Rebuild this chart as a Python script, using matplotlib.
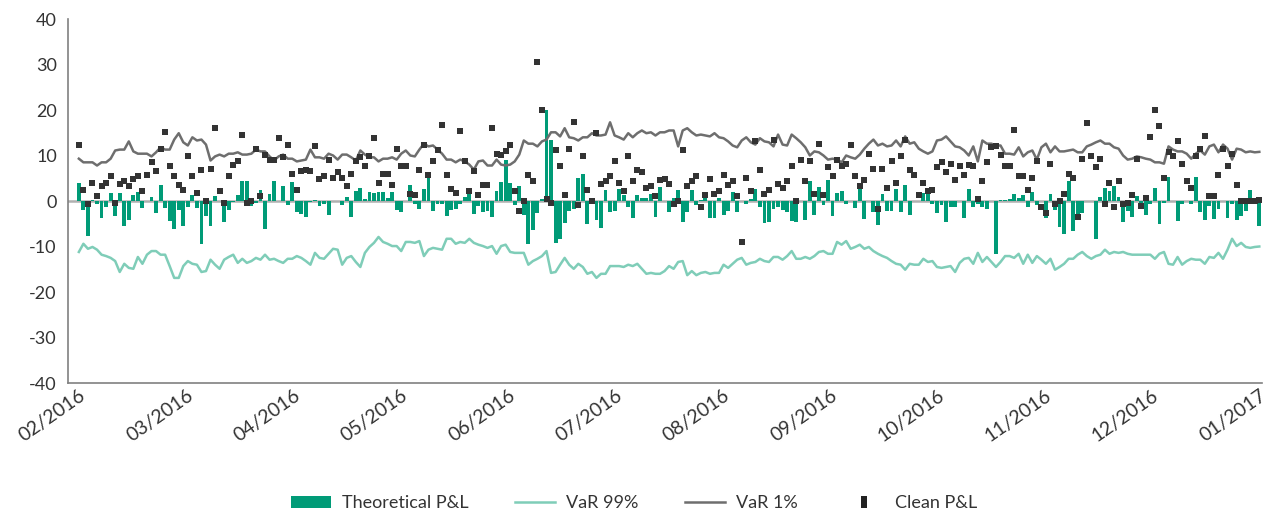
import numpy as np
import matplotlib
matplotlib.use('Agg')
import matplotlib.pyplot as plt
from matplotlib.patches import Patch
from matplotlib.lines import Line2D

plt.rcParams['font.family'] = ['Lato', 'DejaVu Sans']
plt.rcParams['axes.unicode_minus'] = False

# Month labels of the category axis
month_labels = ['02/2016', '03/2016', '04/2016', '05/2016', '06/2016', '07/2016',
                '08/2016', '09/2016', '10/2016', '11/2016', '12/2016', '01/2017']

# Daily values
theoretical_pl = [
    4.0, -1.9, -7.6, 0.2, -0.6, -3.7, -1.3, 1.8, -3.2, 1.8, -5.4, -4.1, 1.3, 2.0, -1.5, 0.0, 0.8, -2.6, 3.5, -1.5, -4.3, -6.1,
    -1.9, -5.4, -1.3, 1.3, -1.5, -9.4, -3.2, -5.4, 1.1, 0.0, -4.6, -1.9, -0.3, 1.3, 4.4, 4.4, -1.0, -0.5, 2.4, -6.1, 1.5, 4.4, 0.0, 3.3,
    -0.8, 4.2, -2.4, -2.8, -3.5, -0.3, 0.3, -1.0, -0.6, -3.0, 0.0, 0.0, -0.8, 0.9, -3.5, 2.2, 2.9, 0.4, 2.0, 1.8, 2.0, 2.0, 0.7, 2.0,
    -1.9, -2.4, 0.0, 3.5, -0.6, -1.7, 2.6, 5.1, -2.1, -0.6, -0.6, -3.2, -1.9, -1.7, -0.6, 0.9, 1.5, -2.8, -1.0, -2.4, -2.1, -3.5, 2.2, 4.2,
    9.0, 4.0, -0.8, 3.3, -3.0, -9.4, -6.3, -2.6, 0.4, 19.9, 13.5, -9.2, -8.3, -4.8, -2.1, -1.7, 5.1, 6.0, -5.0, -0.3, -4.1, -5.9, 2.4, -2.4,
    -2.1, 2.6, 1.3, -1.3, -3.7, 1.3, 0.7, 0.7, 1.5, -3.5, 3.1, 0.0, -2.4, 0.7, 2.4, -4.6, -2.4, 2.4, -0.8, 0.2, 0.9, -3.7, -3.7, 0.7,
    -3.0, -2.1, 2.0, -2.4, 0.0, -0.6, 0.4, 2.6, -1.3, -4.8, -4.6, -1.7, -1.3, -1.9, -2.4, -4.3, -4.6, 0.0, -4.1, 4.4, -3.0, 3.1, -0.8, 4.6,
    -3.2, 1.8, 2.2, -0.6, 0.0, -1.5, 3.1, -3.9, 0.0, -2.4, -5.2, 1.5, -2.1, -2.1, 2.6, -2.4, 3.5, -3.0, 0.0, 0.0, 1.8, 1.5, -0.6, -2.6,
    -0.8, -4.6, -1.3, -1.3, 0.0, -3.7, 2.6, -1.3, -0.6, -1.3, -1.7, 0.0, -11.6, 0.2, 0.2, 0.4, 1.5, 0.7, 1.3, -1.3, 2.0, -0.8, 0.0, -3.7, 1.5,
    -1.9, -5.7, -7.2, 4.4, -6.5, -3.9, -2.6, 0.0, 0.0, -8.3, 0.9, 2.9, 2.2, 3.3, 0.9, -4.6, -2.1, -3.5, 1.1, -0.6, -3.0, -0.6, 2.9, -5.0,
    -0.4, 5.3, 0.0, -4.3, -0.6, 0.0, -0.6, 5.3, -2.4, -4.1, -1.0, -3.9, -1.7, 0.0, -3.7, -0.6, -4.1, -3.2, -2.1, 2.4, 0.7, -5.4,
]

var_99 = [
    -11.2, -9.4, -10.5, -10.1, -10.7, -11.8, -12.1, -12.5, -13.2, -15.6, -13.8, -14.7, -14.9, -12.3, -13.8, -11.8, -11.0, -11.0, -11.8, -11.8, -14.3, -16.9,
    -16.9, -14.3, -13.2, -13.8, -14.0, -15.6, -15.4, -12.9, -14.0, -14.9, -12.9, -12.3, -11.8, -13.6, -12.7, -13.6, -13.2, -12.5, -12.9, -11.8, -12.9, -12.7, -13.2, -13.6,
    -12.7, -12.7, -12.1, -12.5, -13.2, -14.0, -11.4, -12.5, -12.7, -11.6, -10.5, -10.7, -14.0, -12.5, -12.1, -13.4, -14.5, -11.4, -10.1, -9.2, -7.9, -9.0, -9.4, -9.9,
    -9.9, -11.0, -9.0, -9.0, -9.2, -8.8, -12.1, -10.7, -10.3, -10.5, -10.7, -8.3, -8.3, -9.4, -9.0, -9.2, -8.3, -9.2, -9.6, -9.9, -10.3, -9.9, -11.6, -9.9,
    -9.6, -11.2, -11.4, -11.4, -11.4, -14.0, -13.2, -12.7, -12.1, -11.0, -15.8, -15.6, -14.0, -12.5, -14.0, -14.9, -13.8, -14.5, -16.0, -15.6, -16.9, -16.0, -16.0, -14.3,
    -14.3, -14.3, -14.5, -14.0, -14.3, -13.8, -14.9, -16.0, -15.8, -16.0, -16.0, -15.4, -14.3, -14.9, -13.4, -13.2, -16.3, -15.4, -16.3, -15.8, -15.6, -16.0, -15.8, -15.8,
    -14.0, -14.7, -13.8, -12.9, -12.5, -14.0, -13.6, -13.4, -12.7, -13.2, -13.4, -12.3, -12.3, -12.9, -12.1, -11.0, -12.7, -12.7, -12.3, -12.7, -12.1, -11.2, -11.0, -11.6,
    -11.6, -9.0, -9.6, -8.8, -10.5, -10.1, -9.6, -10.5, -10.1, -11.0, -11.6, -12.1, -12.5, -13.2, -13.8, -14.0, -15.1, -13.8, -14.0, -14.0, -12.7, -13.4, -13.2, -14.5,
    -14.7, -14.5, -14.3, -15.6, -13.6, -12.7, -12.5, -13.8, -11.4, -13.4, -12.3, -13.4, -14.5, -13.4, -12.1, -12.1, -12.5, -11.6, -13.8, -11.8, -13.6, -12.1, -12.9, -13.8, -12.7,
    -15.1, -14.5, -13.8, -12.7, -12.7, -11.8, -11.2, -12.1, -12.7, -12.1, -11.8, -10.7, -11.6, -11.2, -11.4, -11.2, -11.6, -11.8, -11.8, -11.8, -11.8, -11.8, -12.7, -11.6,
    -11.2, -13.8, -14.0, -12.3, -14.0, -13.2, -12.7, -12.9, -12.9, -13.8, -12.3, -12.5, -11.4, -12.7, -10.7, -8.3, -9.9, -9.2, -10.1, -10.3, -10.1, -10.0,
]

var_1 = [
    9.3, 8.5, 8.5, 8.5, 7.8, 8.5, 8.5, 9.3, 11.1, 11.3, 11.3, 13.1, 10.9, 10.4, 10.4, 10.4, 9.8, 10.7, 11.8, 11.3, 11.3, 13.5,
    14.9, 12.9, 12.2, 14.0, 13.3, 13.5, 12.4, 8.9, 9.8, 10.2, 9.8, 10.4, 10.4, 10.7, 10.2, 10.2, 10.4, 11.3, 10.9, 10.9, 9.8, 8.9, 9.8, 10.2,
    9.3, 9.3, 8.7, 8.9, 9.1, 11.3, 9.6, 9.6, 9.3, 10.4, 10.0, 9.1, 10.2, 10.2, 9.6, 8.9, 11.1, 10.2, 9.6, 9.6, 8.7, 9.3, 9.3, 9.6,
    9.1, 10.4, 11.1, 10.0, 9.8, 11.3, 12.6, 12.0, 12.2, 11.3, 10.4, 9.1, 9.1, 8.5, 9.1, 8.7, 8.0, 6.9, 8.7, 8.9, 7.8, 7.8, 9.1, 8.0,
    7.8, 8.0, 8.7, 10.2, 13.3, 12.6, 12.6, 12.0, 13.1, 13.5, 15.1, 15.1, 14.2, 16.0, 14.0, 13.8, 13.3, 14.0, 14.0, 14.9, 14.4, 14.4, 14.6, 17.3,
    14.4, 14.0, 13.5, 14.9, 14.0, 14.9, 15.5, 14.9, 15.1, 14.4, 15.1, 15.1, 15.5, 15.5, 12.0, 15.5, 16.0, 15.1, 14.4, 14.6, 14.4, 14.2, 14.9, 14.0,
    13.8, 13.1, 12.2, 11.8, 13.3, 14.0, 12.9, 12.4, 13.8, 13.1, 12.9, 12.0, 14.6, 12.4, 12.2, 14.6, 13.8, 12.9, 11.8, 10.0, 10.9, 10.7, 10.0, 9.1,
    9.3, 9.1, 8.5, 10.0, 9.6, 9.3, 10.2, 11.5, 12.6, 13.5, 12.2, 12.6, 12.0, 12.2, 13.3, 12.0, 14.2, 12.6, 12.9, 11.5, 10.9, 10.4, 10.9, 13.3,
    13.5, 14.2, 13.1, 12.0, 11.8, 11.1, 10.0, 12.0, 8.7, 13.3, 12.6, 12.6, 12.2, 12.2, 10.4, 10.4, 10.2, 11.8, 9.8, 10.7, 11.1, 9.1, 11.8, 12.6, 10.7,
    12.0, 10.9, 10.9, 11.1, 11.3, 10.7, 10.7, 12.0, 12.4, 12.9, 13.3, 12.6, 12.6, 11.8, 11.5, 10.0, 9.1, 9.3, 9.8, 9.6, 9.3, 9.1, 8.5, 8.5,
    8.2, 12.0, 11.3, 10.9, 10.9, 10.4, 9.3, 10.4, 11.1, 10.2, 12.0, 12.4, 10.7, 12.4, 11.5, 9.1, 11.5, 11.3, 10.7, 10.9, 10.7, 10.8,
]

clean_pl = [
    12.2, 2.5, -0.6, 4.0, 1.0, 3.4, 4.0, 5.6, -0.4, 3.8, 4.3, 3.2, 4.9, 5.4, 2.1, 5.8, 8.5, 6.7, 11.5, 15.1, 7.8, 5.6,
    3.6, 2.5, 9.8, 5.4, 1.8, 6.9, 0.1, 7.1, 16.0, 2.3, -0.4, 5.4, 8.0, 8.9, 14.6, -0.4, 0.1, 11.5, 1.0, 10.2, 9.1, 9.1, 13.8, 9.6,
    12.4, 6.0, 2.5, 6.7, 6.9, 6.7, 12.0, 4.9, 5.4, 9.1, 5.1, 6.3, 5.1, 3.4, 6.0, 8.9, 9.6, 7.6, 9.8, 13.8, 4.0, 6.0, 6.0, 3.6,
    11.5, 7.6, 7.6, 1.6, 1.4, 6.9, 12.2, 5.8, 8.7, 11.1, 16.6, 5.8, 2.7, 1.8, 15.3, 8.7, 2.1, 6.7, 1.4, 3.6, 3.6, 16.0, 10.4, 10.2,
    10.9, 12.4, 2.3, -2.1, 0.1, 5.8, 4.5, 30.5, 20.1, 0.5, -0.4, 11.3, 7.6, 1.4, 11.5, 17.3, -0.8, 10.0, 2.5, -0.1, 14.9, 3.8, 4.5, 5.4,
    8.9, 4.0, 2.1, 9.8, 4.5, 6.9, 6.3, 2.9, 3.2, 1.2, 4.7, 4.9, 3.8, -0.6, -0.1, 11.3, 3.4, 4.5, 5.4, -1.3, 1.4, 4.9, 1.6, 2.3,
    5.8, 3.6, 4.3, 1.0, -9.0, 5.1, 2.3, 13.1, 6.9, 1.6, 2.5, 13.5, 3.8, 2.9, 4.3, 7.8, -0.1, 9.1, 4.5, 8.7, 1.6, 12.6, 1.4, 7.4,
    5.6, 9.1, 7.6, 8.2, 12.2, 5.6, 3.4, 4.7, 10.4, 7.1, -1.7, 7.1, 2.9, 8.7, 4.0, 10.0, 13.3, 6.9, 5.8, 1.4, 4.0, 2.1, 2.5, 7.4,
    8.5, 6.3, 8.2, 4.7, 7.8, 5.8, 8.0, 7.8, 0.5, 4.3, 8.5, 11.8, 12.0, 10.2, 7.8, 7.6, 15.7, 5.6, 5.6, 2.5, 5.1, 8.7, -1.3, -2.6, 8.2,
    -0.6, -0.1, 1.6, 6.0, 5.1, -3.5, 9.3, 17.1, 10.0, 7.4, 9.3, -0.6, 4.0, -1.3, 4.3, -0.6, -0.4, 1.4, 9.3, -1.0, 0.7, 14.0, 20.1, 16.4,
    5.1, 10.7, 10.0, 13.1, 8.2, 4.5, 2.9, 9.8, 11.5, 14.2, 1.0, 1.2, 5.8, 11.5, 7.6, 10.4, 3.6, -0.1, -0.1, -0.1, -0.1, 0.2,
]

GREEN = '#009b77'
LIGHT_TEAL = '#7fcdb8'
GREY = '#6e6e6e'
DOT = '#333333'
TEXT = '#333333'

fig = plt.figure(figsize=(12.68, 5.15), dpi=100)
ax = fig.add_axes([0.0536, 0.2563, 0.9417, 0.7068])

ax.axhline(0, color='#b0b0b0', lw=1.8, zorder=1)
ax.bar(np.arange(len(theoretical_pl)), theoretical_pl, width=0.85, color=GREEN, zorder=2)
ax.plot(np.arange(len(var_99)), var_99, color=LIGHT_TEAL, lw=1.8, zorder=3)
ax.plot(np.arange(len(var_1)), var_1, color=GREY, lw=1.8, zorder=3)
ax.plot(np.arange(len(clean_pl)), clean_pl, 's', color=DOT, ms=3.9, mew=0, zorder=4)

n = len(theoretical_pl)
ax.set_xlim(-2.4, n - 0.4)
ax.set_ylim(-40, 40)
ax.set_yticks(range(-40, 41, 10))
ax.set_xticks(np.linspace(0, n - 1, len(month_labels)))
ax.set_xticklabels(month_labels, rotation=35, ha='right', va='top', rotation_mode='anchor')
ax.tick_params(axis='both', length=0, labelcolor=TEXT)
ax.tick_params(axis='y', pad=8, labelsize=13)
ax.tick_params(axis='x', pad=3, labelsize=14)

for side in ('top', 'right'):
    ax.spines[side].set_visible(False)
for side in ('left', 'bottom'):
    ax.spines[side].set_color('#808080')
    ax.spines[side].set_linewidth(1.2)

tall_box = [(-0.5, -1), (0.5, -1), (0.5, 1), (-0.5, 1)]
handles = [
    Patch(facecolor=GREEN, edgecolor='none'),
    Line2D([], [], color=LIGHT_TEAL, lw=1.8),
    Line2D([], [], color=GREY, lw=1.8),
    Line2D([], [], ls='none', marker=tall_box, color='#222222', ms=9, mew=0),
]
labels = ['Theoretical P&L', 'VaR 99%', 'VaR 1%', 'Clean P&L']
fig.legend(handles, labels, loc='center', bbox_to_anchor=(0.5, 0.023), ncol=4,
           frameon=False, fontsize=13, labelcolor=TEXT, handlelength=2.2,
           handleheight=0.7, handletextpad=0.6, columnspacing=2.6)

fig.savefig('out.png', dpi=100)
